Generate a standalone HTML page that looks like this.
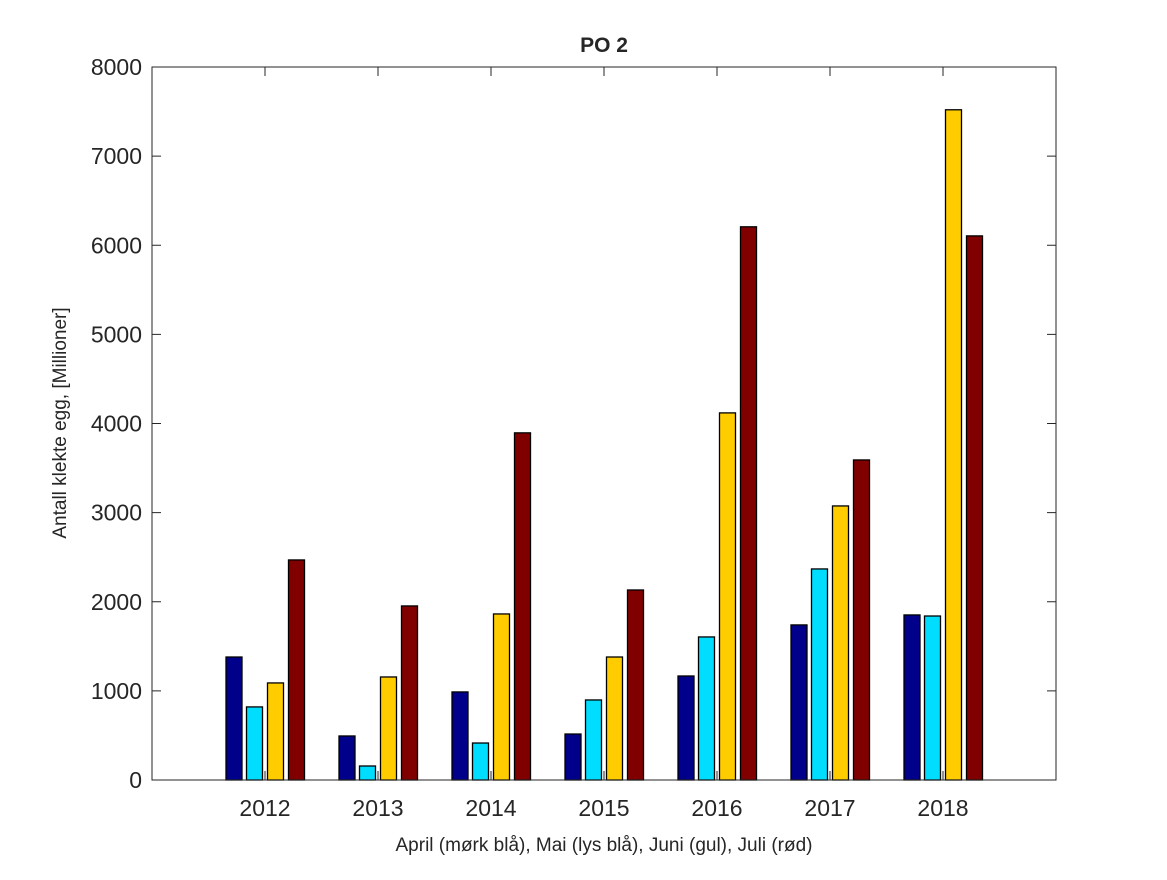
<!DOCTYPE html>
<html><head><meta charset="utf-8"><style>
body{margin:0;background:#fff;}
svg text{font-family:"Liberation Sans",sans-serif;fill:#262626;}
</style></head><body>
<svg width="1167" height="875" viewBox="0 0 1167 875">
<rect width="1167" height="875" fill="#fff"/>
<g id="bars"></g>
<g id="axes"></g>
<text x="604" y="52" text-anchor="middle" font-size="21" font-weight="bold" fill="#000">PO 2</text>
<text x="604" y="851" text-anchor="middle" font-size="19">April (mørk blå), Mai (lys blå), Juni (gul), Juli (rød)</text>
<text transform="translate(66,423) rotate(-90)" text-anchor="middle" font-size="19">Antall klekte egg, [Millioner]</text>
</svg>
<script>
const years = ["2012","2013","2014","2015","2016","2017","2018"];
const april = [1380,494,988,516,1167,1740,1852];
const mai = [820,157,415,898,1605,2368,1840];
const juni = [1089,1156,1863,1380,4119,3075,7520];
const juli = [2469,1953,3895,2132,6207,3591,6105];
const yTicks = [0,1000,2000,3000,4000,5000,6000,7000,8000];

const L=152,R=1056,T=67,B=780;
const NS="http://www.w3.org/2000/svg";
function xs(i){return L+(R-L)*(i+1)/(years.length+1);}
function ys(v){return B-(B-T)*v/8000;}
function mk(tag,attrs,parent){const e=document.createElementNS(NS,tag);for(const k in attrs)e.setAttribute(k,attrs[k]);parent.appendChild(e);return e;}
const bars=document.getElementById('bars'), axes=document.getElementById('axes');
const series=[[april,"#00008B",-31,"april"],[mai,"#00DDFF",-10.5,"mai"],[juni,"#FFCC00",10.5,"juni"],[juli,"#800000",31.5,"juli"]];
series.forEach(s=>{
  s[0].forEach((v,i)=>{
    const r=mk('rect',{x:xs(i)+s[2]-8,y:ys(v),width:16,height:B-ys(v),fill:s[1],stroke:"#000","stroke-width":1.3},bars);
    
    
  });
});
mk('rect',{x:L,y:T,width:R-L,height:B-T,fill:"none",stroke:"#262626","stroke-width":1},axes);
yTicks.forEach(v=>{
  const y=ys(v);
  mk('line',{x1:L,x2:L+9,y1:y,y2:y,stroke:"#262626"},axes);
  mk('line',{x1:R,x2:R-9,y1:y,y2:y,stroke:"#262626"},axes);
  const t=mk('text',{x:L-10,y:y+8,"text-anchor":"end","font-size":"23"},axes);
  t.textContent=v;
  
  
});
years.forEach((yr,i)=>{
  const x=xs(i);
  mk('line',{x1:x,x2:x,y1:B,y2:B-9,stroke:"#262626"},axes);
  mk('line',{x1:x,x2:x,y1:T,y2:T+9,stroke:"#262626"},axes);
  const t=mk('text',{x:x,y:B+36,"text-anchor":"middle","font-size":"23"},axes);
  t.textContent=yr;
  
  
});
</script>
</body></html>
